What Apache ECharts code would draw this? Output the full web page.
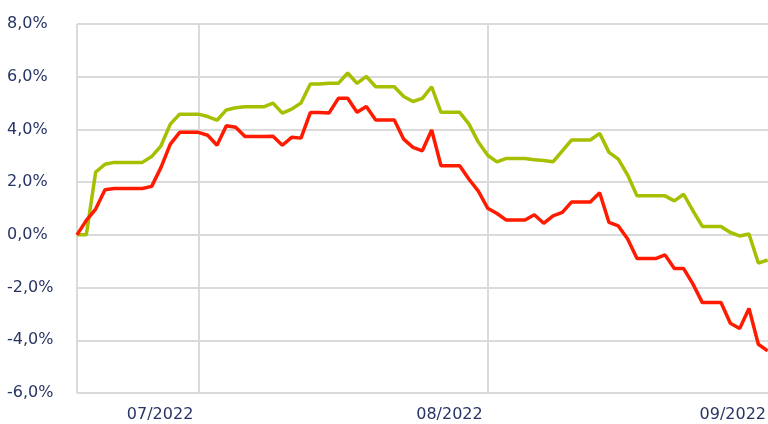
<!DOCTYPE html>
<html>
<head>
<meta charset="utf-8">
<script src="https://cdn.jsdelivr.net/npm/echarts@6/dist/echarts.min.js"></script>
<style>
html,body{margin:0;padding:0;background:#fff;}
#chart{width:768px;height:424px;}
</style>
</head>
<body>
<div id="chart"></div>
<script>
const dates = [
'2022-06-18','2022-06-19','2022-06-20','2022-06-21','2022-06-22','2022-06-23','2022-06-24','2022-06-25','2022-06-26','2022-06-27',
'2022-06-28','2022-06-29','2022-06-30','2022-07-01','2022-07-02','2022-07-03','2022-07-04','2022-07-05','2022-07-06','2022-07-07',
'2022-07-08','2022-07-09','2022-07-10','2022-07-11','2022-07-12','2022-07-13','2022-07-14','2022-07-15','2022-07-16','2022-07-17',
'2022-07-18','2022-07-19','2022-07-20','2022-07-21','2022-07-22','2022-07-23','2022-07-24','2022-07-25','2022-07-26','2022-07-27',
'2022-07-28','2022-07-29','2022-07-30','2022-07-31','2022-08-01','2022-08-02','2022-08-03','2022-08-04','2022-08-05','2022-08-06',
'2022-08-07','2022-08-08','2022-08-09','2022-08-10','2022-08-11','2022-08-12','2022-08-13','2022-08-14','2022-08-15','2022-08-16',
'2022-08-17','2022-08-18','2022-08-19','2022-08-20','2022-08-21','2022-08-22','2022-08-23','2022-08-24','2022-08-25','2022-08-26',
'2022-08-27','2022-08-28','2022-08-29','2022-08-30','2022-08-31','2022-09-01'
];

const greenSeries = [
0,0,2.38,2.68,2.75,2.75,2.75,2.75,2.97,3.38,
4.2,4.58,4.58,4.58,4.49,4.35,4.74,4.82,4.86,4.86,
4.86,5.0,4.62,4.77,5.0,5.72,5.72,5.75,5.75,6.14,
5.75,6.01,5.62,5.62,5.62,5.25,5.06,5.18,5.62,4.65,
4.65,4.65,4.2,3.52,3.02,2.77,2.9,2.9,2.9,2.85,
2.82,2.77,3.19,3.6,3.6,3.6,3.85,3.13,2.87,2.27,
1.48,1.48,1.48,1.48,1.29,1.54,0.91,0.32,0.32,0.32,
0.09,-0.04,0.03,-1.07,-0.95
];

const redSeries = [
0,0.55,0.98,1.71,1.76,1.76,1.76,1.76,1.84,2.56,
3.44,3.89,3.89,3.89,3.78,3.4,4.14,4.08,3.73,3.73,
3.73,3.74,3.4,3.7,3.67,4.64,4.64,4.62,5.18,5.18,
4.65,4.87,4.36,4.36,4.36,3.63,3.32,3.19,3.98,2.62,
2.62,2.62,2.11,1.66,1.01,0.81,0.56,0.56,0.56,0.76,
0.44,0.72,0.85,1.25,1.25,1.25,1.6,0.47,0.34,-0.16,
-0.9,-0.9,-0.9,-0.76,-1.28,-1.28,-1.87,-2.57,-2.57,-2.57,
-3.35,-3.55,-2.79,-4.15,-4.4
];

const tickDates = ['2022-07-01','2022-08-01','2022-09-01'];
const tickLabels = ['07/2022','08/2022','09/2022'];

const textColor = '#283464';
const gridColor = '#dadada';
const font = 'DejaVu Sans';

const chart = echarts.init(document.getElementById('chart'), null, {renderer:'canvas'});
const lineDates = ['2022-06-18'].concat(tickDates);

chart.setOption({
  animation:false,
  backgroundColor:'#ffffff',
  grid:{left:77, width:700, top:24, bottom:31, containLabel:false, outerBoundsMode:'none'},
  xAxis:{
    type:'category',
    data:dates,
    boundaryGap:false,
    axisLine:{show:false},
    axisTick:{show:true, length:14, lineStyle:{color:gridColor, width:2},
      interval:function(i, v){ return lineDates.indexOf(v) >= 0; }},
    splitLine:{show:true, lineStyle:{color:gridColor, width:2},
      interval:function(i, v){ return lineDates.indexOf(v) >= 0; }},
    axisLabel:{
      interval:function(i, v){ return tickDates.indexOf(v) >= 0; },
      align:'right',
      margin:14,
      color:textColor,
      fontFamily:font,
      fontSize:16,
      formatter:function(v){
        const k = tickDates.indexOf(v);
        if (k < 0) return '';
        return (k === tickDates.length - 1 ? '{e|' : '{n|') + tickLabels[k] + '}';
      },
      rich:{
        n:{padding:[0,5,0,0], color:textColor, fontFamily:font, fontSize:16},
        e:{padding:[0,11,0,0], color:textColor, fontFamily:font, fontSize:16}
      }
    }
  },
  yAxis:{
    type:'value',
    min:-6, max:8, interval:2,
    axisLine:{show:false},
    axisTick:{show:false},
    splitLine:{show:true, lineStyle:{color:gridColor, width:2}},
    axisLabel:{
      align:'left',
      margin:70,
      color:textColor,
      fontFamily:font,
      fontSize:16,
      formatter:function(v){ return v.toFixed(1).replace('.', ',') + '%'; }
    }
  },
  series:[
    {type:'line', data:greenSeries, showSymbol:false, lineStyle:{color:'#a6bf00', width:3.5}, itemStyle:{color:'#a6bf00'}, z:2},
    {type:'line', data:redSeries, showSymbol:false, lineStyle:{color:'#ff1a00', width:3.5}, itemStyle:{color:'#ff1a00'}, z:3}
  ]
});
</script>
</body>
</html>
